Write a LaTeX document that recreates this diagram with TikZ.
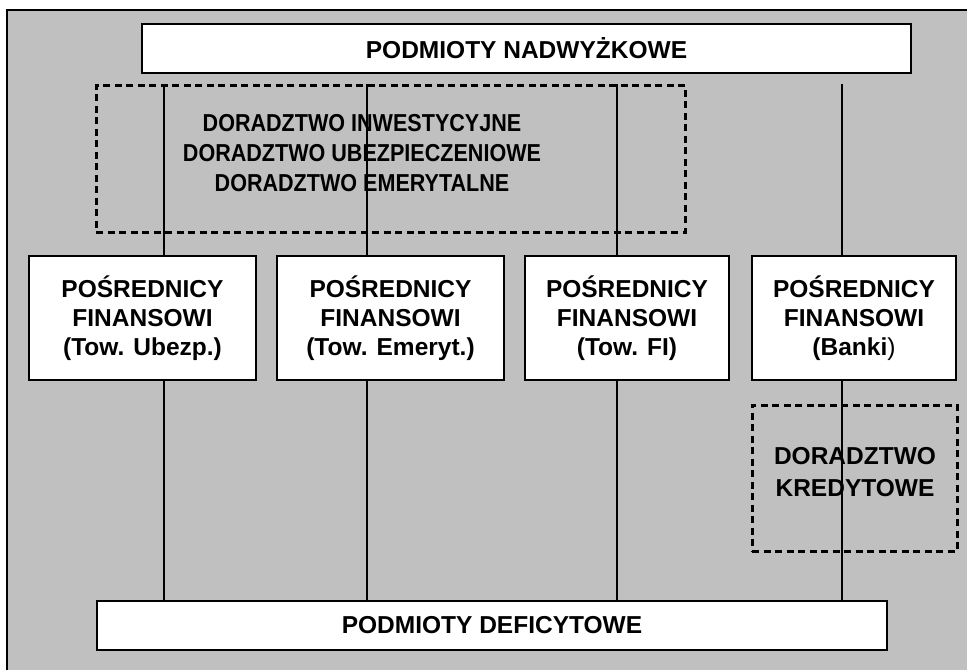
\documentclass[tikz,border=0pt]{standalone}
\usepackage{fontspec}
\setmainfont{Liberation Sans}
\newfontfamily\narrowsans[FakeStretch=0.88]{Liberation Sans}
\usetikzlibrary{positioning}
\definecolor{FrameGray}{HTML}{C0C0C0}

\begin{document}
\begin{tikzpicture}[x=1pt, y=-1pt, font=\bfseries\fontsize{24.5}{29}\selectfont,
  box/.style={draw=black, line width=2pt, fill=white, inner sep=0pt, align=center},
  dashbox/.style={draw=black, line width=3pt, dash pattern=on 7pt off 4.5pt, inner sep=0pt, align=center},
  link/.style={draw=black, line width=1.3pt}]
  \useasboundingbox (0,0) rectangle (967,670);
  % Grey sheet, only its top and left edges are seen.
  \fill[FrameGray] (7,10) rectangle (967,670);
  \draw[line width=2pt] (7,670) -- (7,10) -- (967,10);

  % Surplus and deficit units.
  \node[box, minimum width=769pt, minimum height=49pt] (nadwyzkowe) at (526.5,48.5)
    {PODMIOTY NADWYŻKOWE};
  \node[box, minimum width=790pt, minimum height=49pt] (deficytowe) at (492,625.5)
    {PODMIOTY DEFICYTOWE};

  % Advisory services.
  \node[dashbox, minimum width=589pt, minimum height=147pt] (doradztwo) at (390.5,158.5) {};
  \node[font=\narrowsans\bfseries\fontsize{24.5}{30}\selectfont, align=center] (doradztwoTxt) at (362,153)
    {DORADZTWO INWESTYCYJNE\\DORADZTWO UBEZPIECZENIOWE\\DORADZTWO EMERYTALNE};
  \node[dashbox, minimum width=205pt, minimum height=146pt] (kredytowe) at (854.5,478) {};
  \node[font=\bfseries\fontsize{24.5}{32}\selectfont, align=center] (kredytoweTxt) at (855,472)
    {DORADZTWO\\KREDYTOWE};

  % Financial intermediaries.
  \node[box, minimum width=227pt, minimum height=124pt] (ubezp) at (142.5,318)
    {POŚREDNICY\\FINANSOWI\\(Tow. Ubezp.)};
  \node[box, minimum width=227pt, minimum height=124pt] (emeryt) at (390.5,318)
    {POŚREDNICY\\FINANSOWI\\(Tow. Emeryt.)};
  \node[box, minimum width=204pt, minimum height=124pt] (fi) at (627,318)
    {POŚREDNICY\\FINANSOWI\\(Tow. FI)};
  \node[box, minimum width=204pt, minimum height=124pt] (banki) at (854,318)
    {POŚREDNICY\\FINANSOWI\\(Banki\textmd{)}};

  % Channels from surplus to deficit units.
  \coordinate (k1) at (164,84);
  \coordinate (k2) at (367,84);
  \coordinate (k3) at (617,84);
  \coordinate (k4) at (842,84);
  \draw[link] (k1) -- (k1 |- ubezp.north);
  \draw[link] (k1 |- ubezp.south) -- (k1 |- deficytowe.north);
  \draw[link] (k2) -- (k2 |- emeryt.north);
  \draw[link] (k2 |- emeryt.south) -- (k2 |- deficytowe.north);
  \draw[link] (k3) -- (k3 |- fi.north);
  \draw[link] (k3 |- fi.south) -- (k3 |- deficytowe.north);
  \draw[link] (k4) -- (k4 |- banki.north);
  \draw[link] (k4 |- banki.south) -- (k4 |- deficytowe.north);
\end{tikzpicture}
\end{document}
